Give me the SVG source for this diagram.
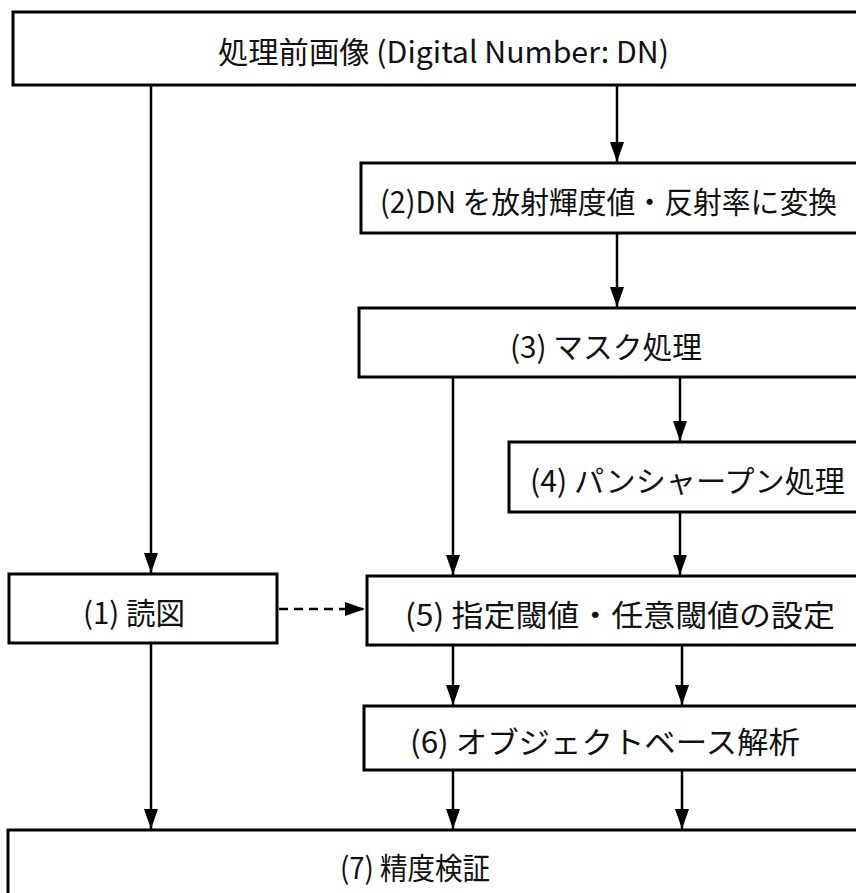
<svg xmlns="http://www.w3.org/2000/svg" width="856" height="893" viewBox="0 0 856 893">
<style>
.box{fill:#fff;stroke:#000;stroke-width:3}
.lbl{font-family:"Noto Sans CJK JP","Noto Sans",sans-serif;font-size:30px;fill:#111;dominant-baseline:central}
.ln{stroke:#000;stroke-width:2.5;fill:none}
.arr{marker-end:url(#ah)}
.dash{stroke-dasharray:9 6}
</style>
<defs>
<marker id="ah" markerUnits="userSpaceOnUse" markerWidth="20" markerHeight="14" refX="20" refY="7" orient="auto">
<path d="M0,0 L20,7 L0,14 z" fill="#000"/>
</marker>
</defs>
<rect width="856" height="893" fill="#fff"/>
<g id="connectors">
<line class="ln arr" x1="151" y1="85" x2="151" y2="573"/>
<line class="ln arr" x1="617" y1="85" x2="617" y2="162"/>
<line class="ln arr" x1="617" y1="233" x2="617" y2="307"/>
<line class="ln arr" x1="453" y1="377" x2="453" y2="575"/>
<line class="ln arr" x1="680" y1="377" x2="680" y2="441"/>
<line class="ln arr" x1="680" y1="512" x2="680" y2="575"/>
<line class="ln arr" x1="453" y1="645" x2="453" y2="705"/>
<line class="ln arr" x1="682" y1="645" x2="682" y2="705"/>
<line class="ln arr" x1="151" y1="643" x2="151" y2="829"/>
<line class="ln arr" x1="453" y1="770" x2="453" y2="829"/>
<line class="ln arr" x1="682" y1="770" x2="682" y2="829"/>
<line class="ln arr dash" x1="279" y1="609" x2="365" y2="609"/>
</g>
<g id="node-top">
<rect class="box" x="13" y="12" width="860" height="73"/>
<text class="lbl" x="218" y="50" textLength="451" lengthAdjust="spacingAndGlyphs">処理前画像 (Digital Number: DN)</text>
</g>
<g id="node-2">
<rect class="box" x="361" y="163" width="520" height="70"/>
<text class="lbl" x="380" y="200" textLength="457" lengthAdjust="spacingAndGlyphs">(2)DN を放射輝度値・反射率に変換</text>
</g>
<g id="node-3">
<rect class="box" x="359" y="308" width="520" height="69"/>
<text class="lbl" x="510" y="345" textLength="192" lengthAdjust="spacingAndGlyphs">(3) マスク処理</text>
</g>
<g id="node-4">
<rect class="box" x="509" y="442" width="370" height="70"/>
<text class="lbl" x="530" y="479" textLength="315" lengthAdjust="spacingAndGlyphs">(4) パンシャープン処理</text>
</g>
<g id="node-1">
<rect class="box" x="9" y="574" width="268" height="69"/>
<text class="lbl" x="83" y="611" textLength="102" lengthAdjust="spacingAndGlyphs">(1) 読図</text>
</g>
<g id="node-5">
<rect class="box" x="367" y="576" width="510" height="69"/>
<text class="lbl" x="405" y="613" textLength="430" lengthAdjust="spacingAndGlyphs">(5) 指定閾値・任意閾値の設定</text>
</g>
<g id="node-6">
<rect class="box" x="364" y="706" width="515" height="64"/>
<text class="lbl" x="410" y="740" textLength="390" lengthAdjust="spacingAndGlyphs">(6) オブジェクトベース解析</text>
</g>
<g id="node-7">
<rect class="box" x="8" y="830" width="870" height="80"/>
<text class="lbl" x="340" y="866" textLength="150" lengthAdjust="spacingAndGlyphs">(7) 精度検証</text>
</g>
</svg>
